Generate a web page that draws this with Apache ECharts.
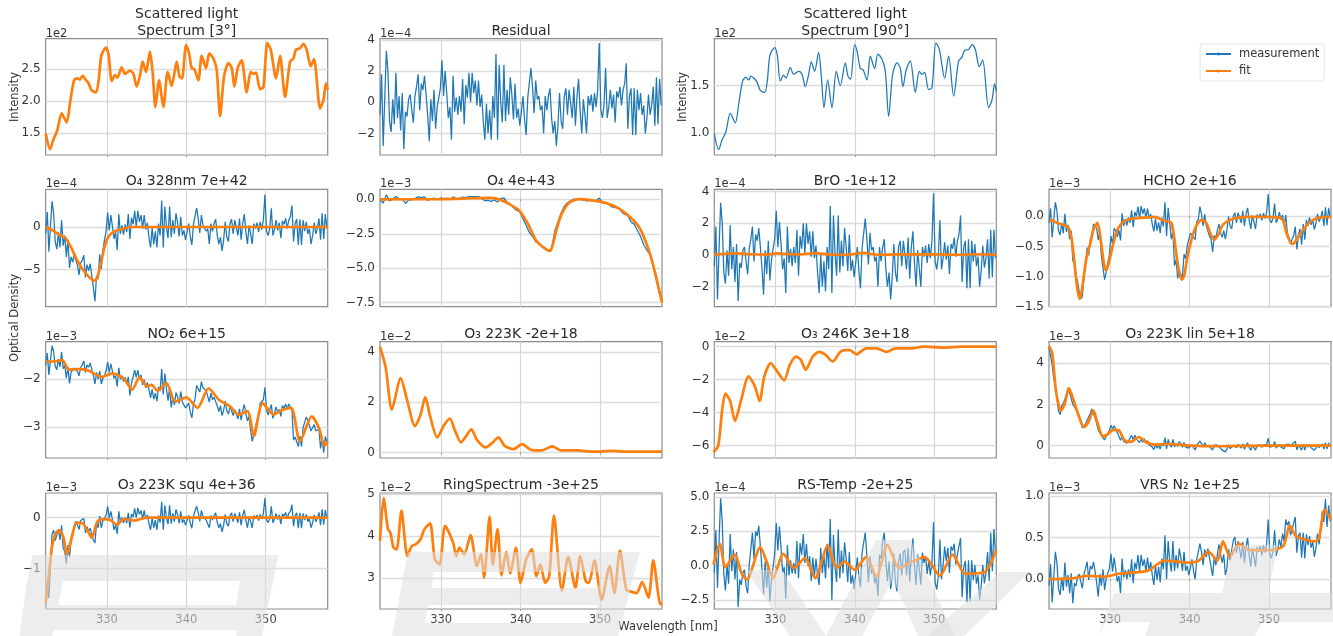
<!DOCTYPE html>
<html><head><meta charset="utf-8">
<style>html,body{margin:0;padding:0;background:#fff}#c{width:1333px;height:636px}#c canvas{filter:blur(0.45px)}</style>
<script src="https://cdn.jsdelivr.net/npm/echarts@6/dist/echarts.min.js"></script>
</head><body><div id="c"></div>
<script>
// ---------- data: wavelength knots and values ----------
const specWave=[322.3,322.85,323.27,323.77,324.31,324.94,325.36,325.87,326.29,326.62,
326.92,327.38,327.67,328.09,328.64,328.97,329.31,329.9,330.23,330.61,
331.03,331.32,331.87,332.29,332.92,333.34,333.76,334.18,334.51,334.93,
335.43,335.77,336.11,336.57,337.11,337.66,338.16,338.79,339.13,339.46,
339.97,340.3,340.68,341.02,341.52,341.94,342.48,342.9,343.41,343.83,
344.25,344.75,345.3,345.72,346.05,346.47,346.97,347.6,348.11,348.44,
348.78,349.28,349.7,350.2,350.63,351.3,351.8,352.43,353.06,353.48,
353.81,354.32,354.74,355.16,355.66,356.08,356.84,357.26,357.59,357.8];
const spec3=[1.5,1.25,1.4,1.55,1.81,1.67,1.97,2.33,2.36,2.34,
2.4,2.33,2.29,2.17,2.14,2.33,2.72,2.84,2.72,2.32,
2.41,2.37,2.53,2.43,2.48,2.43,2.23,2.41,2.62,2.46,
2.78,2.44,1.91,2.33,1.91,2.46,2.24,2.62,2.39,2.36,
2.88,2.78,2.52,2.5,2.33,2.71,2.52,2.75,2.67,2.49,
1.77,2.39,2.6,2.52,2.23,2.52,2.64,2.14,2.46,2.43,
2.45,2.19,2.22,2.91,2.81,2.36,2.71,2.07,2.62,2.67,
2.81,2.83,2.9,2.8,2.55,2.66,1.89,2.02,2.28,2.18];
const spec90=[1.0,0.83,0.93,1.02,1.21,1.11,1.3,1.55,1.59,1.56,
1.6,1.57,1.54,1.45,1.43,1.55,1.82,1.9,1.82,1.55,
1.61,1.58,1.69,1.62,1.65,1.62,1.49,1.62,1.75,1.65,
1.85,1.6,1.27,1.56,1.27,1.65,1.5,1.74,1.6,1.57,
1.93,1.85,1.68,1.67,1.56,1.81,1.68,1.83,1.78,1.65,
1.18,1.62,1.74,1.68,1.49,1.67,1.76,1.43,1.65,1.62,
1.64,1.46,1.48,1.95,1.88,1.58,1.81,1.39,1.76,1.8,
1.87,1.88,1.93,1.88,1.7,1.77,1.27,1.35,1.52,1.44];

const residual=[-0.8,1.8,-2.8,0.3,3.3,2.0,-1.2,-1.9,0.2,-1.4,
1.9,-1.0,0.4,-1.8,0.6,-3.0,-0.6,-0.9,0.2,0.5,
-0.5,-1.3,0.4,1.0,1.8,-0.5,1.2,0.8,1.7,0.5,
-0.8,-2.5,0.2,-1.2,0.8,-1.7,-0.3,0.3,0.9,2.7,
0.4,2.0,0.6,-1.0,-0.3,-2.4,1.7,-0.6,0.3,-0.8,
0.4,-0.6,1.5,-1.4,1.1,0.3,1.9,0.0,1.9,0.6,
1.4,-0.2,1.4,-0.3,0.5,-1.2,-2.4,-0.1,-2.0,-0.5,
-2.4,0.4,-1.0,3.1,-2.4,2.4,0.0,-1.3,2.4,-1.2,
0.8,-0.8,1.6,0.5,-1.1,1.2,-1.0,-0.4,-1.5,-0.6,
0.4,-1.1,-2.1,0.3,0.3,2.2,1.0,-0.7,1.4,0.2,
0.4,-0.5,-0.2,-2.0,0.4,-0.5,0.4,0.9,-1.0,-2.0,
-1.2,-2.8,-1.5,0.6,-1.2,-1.7,0.4,0.9,-0.8,0.8,
0.9,-1.0,1.0,-1.5,0.4,1.5,-0.6,-2.0,0.2,-0.8,
-2.0,0.4,-0.2,0.5,-0.6,0.6,-0.3,0.8,3.8,-0.5,
-1.0,-0.2,2.2,-1.0,-0.3,0.8,-0.4,0.5,-1.3,0.7,
0.3,1.0,-0.2,0.8,1.2,2.5,-1.7,0.4,0.9,-2.1,
0.9,-2.1,0.8,-0.5,0.6,-0.8,-0.2,-2.0,-1.0,0.5,
-0.8,-0.2,1.0,-1.5,1.6,-1.4,1.5,-0.2];

const fitO4a=[[322.3,0],[323,-0.3],[324,-0.9],[324.8,-1.3],[325.5,-2.4],[326.2,-3.8],[327,-5.0],[327.8,-5.9],[328.4,-6.3],[328.8,-5.9],[329.3,-4],[329.8,-2],[330.3,-1],[331,-0.5],[332,-0.2],[333,0],[340,0],[350,0],[357.8,0]];
const measO4a=[-0.8,1.75,-2.9,0.1,3.0,1.6,-1.75,-2.6,-0.6,-2.4,
0.8,-2.2,-1.0,-3.5,-1.5,-4.8,-3.5,-4.1,-3.3,-3.3,
-4.5,-5.6,-4.2,-3.9,-3.3,-5.9,-4.4,-5.1,-4.3,-5.7,
-7.1,-8.7,-5.7,-6.1,-3.2,-4.9,-2.7,-1.5,-0.5,1.7,
-0.4,1.4,0.1,-1.4,-0.6,-2.7,1.5,-0.8,0.2,-0.9,
0.3,-0.6,1.5,-1.4,1.1,0.3,1.9,0.0,1.9,0.6,
1.4,-0.2,1.4,-0.3,0.5,-1.2,-2.4,-0.1,-2.0,-0.5,
-2.4,0.4,-1.0,3.1,-2.4,2.4,0.0,-1.3,2.4,-1.2,
0.8,-0.8,1.6,0.5,-1.1,1.2,-1.0,-0.4,-1.5,-0.6,
0.4,-1.1,-2.1,0.3,0.3,2.2,1.0,-0.7,1.4,0.2,
0.4,-0.5,-0.2,-2.0,0.4,-0.5,0.4,0.9,-1.0,-2.0,
-1.2,-2.8,-1.5,0.6,-1.2,-1.7,0.4,0.9,-0.8,0.8,
0.9,-1.0,1.0,-1.5,0.4,1.5,-0.6,-2.0,0.2,-0.8,
-2.0,0.4,-0.2,0.5,-0.6,0.6,-0.3,0.8,3.8,-0.5,
-1.0,-0.2,2.2,-1.0,-0.3,0.8,-0.4,0.5,-1.3,0.7,
0.3,1.0,-0.2,0.8,1.2,2.5,-1.7,0.4,0.9,-2.1,
0.9,-2.1,0.8,-0.5,0.6,-0.8,-0.2,-2.0,-1.0,0.5,
-0.8,-0.2,1.0,-1.5,1.6,-1.4,1.5,-0.2];

const fitO4b=[[322.3,0],[330,0.02],[334,0.08],[336,0.1],[337.3,0],[338.6,-0.35],[339.8,-0.8],[340.9,-1.75],[341.9,-2.95],[342.8,-3.45],[343.7,-3.75],[344.05,-3.3],[344.45,-2.35],[345.1,-1.15],[346.1,-0.25],[347.4,0.02],[350,-0.17],[352,-0.55],[353.7,-1.25],[355,-2.1],[356.2,-3.8],[357,-5.5],[357.8,-7.5]];
const measO4b=[-0.07,-0.27,0.33,-0.11,0.03,
0.2,0.04,0.06,-0.3,-0.06,
-0.04,0.05,0.18,0.13,0.18,
-0.07,0.03,0.09,-0.02,0.1,
0.05,0.07,-0.02,0.18,0.04,
0.05,0.16,0.12,0.2,0.2,
0.2,0.2,0.1,-0.1,-0.08,
-0.15,-0.05,-0.2,0.05,0.1,
-0.2,-0.35,-0.62,-0.8,-0.9,
-1.4,-1.9,-2.4,-2.7,-3.08,
-3.2,-3.4,-3.6,-3.75,-3.6,
-2.3,-1.65,-1.0,-0.5,-0.25,
-0.1,0.02,0.02,0,-0.05,
-0.12,-0.1,-0.1,-0.12,0.1,
-0.25,-0.25,-0.38,-0.55,-0.6,
-0.6,-0.9,-1.1,-1.15,-1.65,
-1.8,-2.25,-2.7,-3.3,-3.7,
-4.0,-4.9,-5.9,-6.9];

const fitBrO=[[322.3,0.03],[325,0.1],[327,0.05],[329,0.03],[330,0.1],[331,0.08],[333,0.04],[335,0.12],[337,0.02],[339,0.02],[341,0.14],[343,0.02],[345,0.04],[348,0.05],[351,0.04],[353,0.02],[355,0.05],[357.8,0.03]];
const measBrO=[-0.7,1.8,-2.8,0.4,3.3,2.0,-1.1,-1.8,0.3,-1.3,
1.9,-0.9,0.5,-1.7,0.7,-2.9,-0.5,-0.8,0.3,0.5,
-0.4,-1.2,0.4,1.0,1.8,-0.4,1.3,0.9,1.7,0.5,
-0.8,-2.5,0.3,-1.2,0.9,-1.6,-0.3,0.4,1.0,2.8,
0.5,2.1,0.7,-0.9,-0.2,-2.4,1.8,-0.5,0.4,-0.7,
0.5,-0.5,1.6,-1.3,1.2,0.4,2.0,0.1,2.0,0.7,
1.5,-0.1,1.5,-0.2,0.6,-1.1,-2.4,0.0,-2.0,-0.4,
-2.3,0.5,-0.9,3.1,-2.4,2.5,0.1,-1.3,2.5,-1.1,
0.9,-0.7,1.7,0.5,-1.0,1.3,-1.0,-0.3,-1.4,-0.5,
0.5,-1.0,-2.1,0.4,0.4,2.3,1.1,-0.6,1.4,0.3,
0.5,-0.4,-0.1,-2.0,0.5,-0.4,0.5,1.0,-0.9,-2.0,
-1.1,-2.8,-1.4,0.7,-1.1,-1.7,0.5,0.9,-0.7,0.9,
1.0,-0.9,1.1,-1.5,0.5,1.5,-0.5,-2.0,0.3,-0.8,
-2.0,0.5,-0.1,0.6,-0.5,0.7,-0.2,0.9,3.9,-0.4,
-0.9,-0.1,2.2,-0.9,-0.2,0.8,-0.3,0.6,-1.2,0.7,
0.4,1.1,-0.1,0.9,1.3,2.5,-1.7,0.5,0.9,-2.1,
1.0,-2.1,0.9,-0.4,0.7,-0.7,-0.1,-2.0,-1.0,0.6,
-0.8,-0.2,1.0,-1.5,1.6,-1.4,1.6,-0.2];

const fitHCHO=[[322.4,-0.05],[323.5,-0.12],[324.1,-0.14],[324.8,-0.2],[325.2,-0.42],[325.6,-0.9],[325.9,-1.23],[326.2,-1.37],[326.5,-1.17],[327,-0.7],[327.5,-0.45],[327.9,-0.22],[328.4,-0.11],[328.7,-0.28],[329.2,-0.78],[329.5,-0.9],[329.9,-0.73],[330.4,-0.45],[331,-0.2],[331.9,-0.07],[332.9,-0.04],[334.6,-0.02],[335.6,-0.01],[336.7,-0.07],[337.7,-0.11],[338.2,-0.5],[338.6,-0.87],[339,-1.05],[339.3,-1],[339.8,-0.62],[340.7,-0.2],[341.5,-0.06],[342.1,-0.11],[342.6,-0.28],[343.1,-0.39],[343.6,-0.31],[344.2,-0.14],[345.5,-0.04],[347.2,-0.01],[349.7,-0.01],[351.6,-0.04],[352.2,-0.28],[352.9,-0.46],[353.3,-0.42],[354.3,-0.22],[355.4,-0.07],[356.4,-0.02],[357.8,-0.01]];
const measHCHO=[-0.11,0.13,-0.35,-0.06,0.23,0.09,-0.24,-0.31,-0.11,-0.28,
0.04,-0.26,-0.14,-0.38,-0.24,-0.75,-0.71,-0.99,-1.08,-1.25,
-1.37,-1.33,-1.01,-0.8,-0.52,-0.65,-0.38,-0.32,-0.13,-0.15,
-0.2,-0.39,-0.26,-0.67,-0.7,-1.05,-0.93,-0.77,-0.64,-0.33,
-0.46,-0.2,-0.24,-0.34,-0.23,-0.4,0.05,-0.16,-0.05,-0.15,
-0.02,-0.11,0.1,-0.18,0.07,0,0.16,-0.03,0.17,0.04,
0.13,-0.03,0.13,-0.04,0.04,-0.13,-0.25,-0.04,-0.24,-0.1,
-0.28,-0.02,-0.17,0.23,-0.33,0.14,-0.11,-0.38,-0.26,-0.82,
-0.72,-1.03,-0.89,-0.97,-1.01,-0.63,-0.7,-0.49,-0.48,-0.28,
-0.26,-0.35,-0.39,-0.09,-0.05,0.16,0.03,-0.16,0.03,-0.16,
-0.16,-0.33,-0.38,-0.59,-0.32,-0.36,-0.23,-0.13,-0.28,-0.35,
-0.24,-0.38,-0.23,0,-0.17,-0.21,0,0.06,-0.11,0.06,
0.08,-0.11,0.09,-0.16,0.03,0.14,-0.07,-0.21,0.01,-0.09,
-0.21,0.03,-0.03,0.04,-0.07,0.05,-0.04,0.07,0.37,-0.06,
-0.11,-0.03,0.21,-0.11,-0.04,0.07,-0.06,0.02,-0.16,0.02,
-0.27,-0.28,-0.46,-0.38,-0.32,-0.17,-0.55,-0.3,-0.21,-0.47,
-0.13,-0.39,-0.06,-0.16,-0.02,-0.14,-0.06,-0.22,-0.12,0.04,
-0.09,-0.03,0.09,-0.16,0.15,-0.15,0.14,-0.03];

const fitNO2=[[322.3,-1.63],[323.3,-1.63],[324.4,-1.6],[325.2,-1.8],[326.3,-1.79],[327.7,-1.82],[329.3,-1.95],[330.7,-1.88],[332.1,-1.98],[333.2,-2.22],[334.1,-1.96],[335.1,-2.15],[335.6,-2.12],[336.4,-2.24],[337.5,-2.08],[338.6,-2.47],[340,-2.38],[341.4,-2.6],[342.8,-2.19],[344.1,-2.43],[345.5,-2.57],[346.6,-2.74],[347.7,-2.67],[348.5,-3.19],[349.6,-2.5],[351,-2.74],[352,-2.65],[353.2,-2.6],[354.3,-3.3],[355.8,-2.78],[356.7,-3.02],[357.4,-3.4],[357.8,-3.3]];
const measNO2=[-1.71,-1.45,-1.91,-1.6,-1.3,-1.42,-1.73,-1.8,-1.58,-1.74,
-1.43,-1.78,-1.71,-1.98,-1.74,-2.09,-1.85,-1.88,-1.77,-1.74,
-1.84,-1.93,-1.76,-1.7,-1.62,-1.86,-1.7,-1.75,-1.66,-1.79,
-1.92,-2.1,-1.86,-2.0,-1.83,-2.1,-1.98,-1.92,-1.83,-1.64,
-1.86,-1.68,-1.83,-1.98,-1.93,-2.15,-1.76,-2.0,-1.93,-2.05,
-1.96,-2.11,-1.95,-2.34,-2.09,-2.07,-1.81,-1.96,-1.81,-2.0,
-1.91,-2.12,-2.01,-2.18,-2.07,-2.22,-2.39,-2.21,-2.42,-2.29,
-2.46,-2.16,-2.25,-1.79,-2.32,-1.88,-2.2,-2.45,-2.18,-2.59,
-2.38,-2.54,-2.28,-2.37,-2.51,-2.26,-2.48,-2.44,-2.6,-2.56,
-2.5,-2.69,-2.81,-2.52,-2.42,-2.13,-2.15,-2.27,-2.05,-2.18,
-2.15,-2.24,-2.24,-2.48,-2.29,-2.43,-2.38,-2.35,-2.56,-2.68,
-2.56,-2.76,-2.65,-2.46,-2.66,-2.73,-2.56,-2.55,-2.76,-2.64,
-2.61,-2.83,-2.62,-2.86,-2.66,-2.53,-2.72,-2.87,-2.78,-3.08,
-3.3,-3.16,-3.12,-2.86,-2.77,-2.5,-2.53,-2.43,-2.17,-2.65,
-2.75,-2.74,-2.53,-2.82,-2.71,-2.58,-2.7,-2.63,-2.78,-2.55,
-2.62,-2.52,-2.62,-2.52,-2.58,-2.65,-3.27,-3.21,-3.21,-3.41,
-3.19,-3.41,-3.02,-3.0,-2.79,-2.86,-2.82,-3.08,-3.05,-2.95,
-3.08,-3.07,-3.05,-3.45,-3.23,-3.54,-3.2,-3.32];

const fitO3a=[[322.3,4.2],[323,3.4],[323.8,1.7],[324.9,2.95],[325.7,2.1],[326.7,1.05],[327.4,1.5],[328,2.2],[328.6,1.45],[329.5,0.6],[330.4,1.1],[331.1,1.35],[331.7,0.9],[332.5,0.4],[333.1,0.63],[333.8,0.92],[334.5,0.5],[335.6,0.2],[336.4,0.37],[337.2,0.6],[338,0.26],[339.1,0.13],[340.2,0.33],[341.3,0.1],[342.6,0.08],[344,0.24],[345.1,0.08],[347.1,0.08],[349.2,0.03],[351.5,0.06],[353.6,0.03],[357.8,0.03]];
const fitO3b=[[322.2,-6.4],[322.8,-6],[323.3,-3.8],[323.7,-2.85],[324.3,-3.3],[324.9,-4.5],[325.7,-3.2],[326.6,-1.8],[327.4,-2.4],[328,-3.3],[328.6,-1.8],[329.4,-1],[330.2,-1.5],[331.1,-2.05],[331.8,-1.1],[332.6,-0.6],[333.2,-0.8],[333.8,-1.4],[334.7,-0.6],[335.5,-0.32],[336.3,-0.5],[337.2,-0.9],[338.2,-0.3],[339.3,-0.2],[340.2,-0.46],[341.4,-0.1],[342.7,-0.1],[344,-0.32],[345.1,-0.1],[347.2,-0.1],[348.6,0],[351.2,-0.06],[353.4,0],[357.8,0]];
const fitO3lin=[[322.3,4.85],[322.7,4.5],[323.2,2.6],[323.8,1.7],[324.3,2.05],[324.8,2.8],[325.4,2.2],[325.9,1.6],[326.7,0.9],[327.2,1.1],[327.9,1.7],[328.4,1.1],[329.1,0.45],[329.6,0.53],[330.4,0.77],[331.1,0.74],[331.8,0.26],[332.6,0.18],[333.6,0.42],[334.4,0.2],[335.5,0.05],[337.4,0.08],[340,0],[343.8,-0.03],[350,0],[357.8,0]];
const measO3lin=[4.77,4.78,3.92,3.23,2.93,2.3,1.68,1.51,1.92,2.06,
2.24,2.3,2.79,2.57,2.56,2,2.04,1.76,1.62,1.45,
1.15,0.87,0.94,1.05,1.23,1.15,1.57,1.78,1.77,1.35,
1.07,0.75,0.82,0.48,0.53,0.28,0.47,0.58,0.74,0.99,
0.81,0.97,0.81,0.64,0.62,0.26,0.47,0.2,0.27,0.12,
0.22,0.19,0.5,0.28,0.51,0.33,0.39,0.15,0.31,0.16,
0.34,0.12,0.24,0.03,0.1,-0.07,-0.19,0.05,-0.13,0.02,
-0.16,0.12,-0.02,0.39,-0.16,0.3,0.06,-0.07,0.3,-0.06,
0.1,-0.04,0.2,0.08,-0.08,0.15,-0.07,-0.01,-0.12,-0.03,
0.04,-0.11,-0.21,0.03,0.03,0.22,0.1,-0.07,0.14,0.02,
0.04,-0.05,-0.02,-0.22,0.02,-0.07,0.02,0.07,-0.12,-0.22,
-0.14,-0.3,-0.17,0.04,-0.14,-0.19,0.02,0.07,-0.1,0.06,
0.07,-0.12,0.08,-0.17,0.02,0.13,-0.08,-0.22,0,-0.1,
-0.22,0.02,-0.04,0.03,-0.08,0.04,-0.05,0.06,0.36,-0.07,
-0.12,-0.04,0.2,-0.12,-0.05,0.06,-0.07,0.02,-0.15,0.05,
0,0.08,-0.04,0.06,0.1,0.22,-0.2,0.02,0.07,-0.22,
0.07,-0.22,0.06,-0.07,0.04,-0.1,-0.04,-0.22,-0.12,0.03,
-0.1,-0.04,0.08,-0.17,0.14,-0.16,0.13,-0.04];

const fitO3squ=[[322.3,-1.67],[322.6,-1.28],[323.1,-0.56],[323.6,-0.3],[324,-0.25],[324.5,-0.37],[325,-0.73],[325.5,-0.44],[326.2,-0.1],[326.9,-0.11],[327.7,-0.3],[328.1,-0.4],[328.8,-0.08],[329.6,-0.03],[330.4,-0.05],[331.3,-0.14],[332.1,-0.03],[333.4,-0.06],[335.1,0],[338.4,0],[357.8,0]];
const measO3squ=[-1.75,-1.27,-1.58,-0.97,-0.32,-0.25,-0.45,-0.46,-0.23,-0.44,
-0.15,-0.6,-0.66,-0.9,-0.54,-0.77,-0.41,-0.34,-0.15,-0.07,
-0.15,-0.23,-0.06,-0.04,-0.02,-0.3,-0.18,-0.27,-0.21,-0.35,
-0.44,-0.5,-0.1,-0.2,0.03,-0.2,-0.06,-0.01,0.04,0.22,
-0.01,0.12,-0.04,-0.24,-0.15,-0.32,0.12,-0.09,0,-0.11,
0,-0.11,0.09,-0.2,0.07,0.01,0.18,0,0.19,0.06,
0.14,-0.02,0.14,-0.03,0.05,-0.12,-0.24,-0.01,-0.2,-0.05,
-0.24,0.04,-0.1,0.31,-0.24,0.24,0,-0.13,0.24,-0.12,
0.08,-0.08,0.16,0.05,-0.11,0.12,-0.1,-0.04,-0.15,-0.06,
0.04,-0.11,-0.21,0.03,0.03,0.22,0.1,-0.07,0.14,0.02,
0.04,-0.05,-0.02,-0.2,0.04,-0.05,0.04,0.09,-0.1,-0.2,
-0.12,-0.28,-0.15,0.06,-0.12,-0.17,0.04,0.09,-0.08,0.08,
0.09,-0.1,0.1,-0.15,0.04,0.15,-0.06,-0.2,0.02,-0.08,
-0.2,0.04,-0.02,0.05,-0.06,0.06,-0.03,0.08,0.38,-0.05,
-0.1,-0.02,0.22,-0.1,-0.03,0.08,-0.04,0.05,-0.13,0.07,
0.03,0.1,-0.02,0.08,0.12,0.25,-0.17,0.04,0.09,-0.21,
0.09,-0.21,0.08,-0.05,0.06,-0.08,-0.02,-0.2,-0.1,0.05,
-0.08,-0.02,0.1,-0.15,0.16,-0.14,0.15,-0.02];

const fitRing=[[322.3,3.88],[322.75,4.9],[323.3,4.16],[323.6,4.08],[324,3.72],[324.4,3.68],[325,4.6],[325.75,3.52],[326.3,3.76],[326.8,3.8],[327.4,3.92],[327.9,4.16],[328.6,4.3],[329.2,3.44],[329.8,3.32],[330.5,4.24],[331.5,3.84],[331.9,3.52],[332.3,3.72],[332.9,3.56],[333.7,4.02],[334.5,3.28],[335,3.56],[335.4,3],[336.1,4.46],[336.5,3.32],[337.1,4.16],[337.6,3.06],[338.2,3.62],[338.7,3.1],[339.4,3.72],[340,2.88],[340.7,3.44],[341.4,3.68],[342,3.04],[342.5,3.32],[343.1,2.88],[343.6,3.04],[344.2,4.48],[345.2,2.7],[346,3.5],[346.9,2.76],[347.5,3.52],[348.2,2.92],[348.6,2.88],[349.3,3.42],[350.2,2.48],[351.2,3.28],[351.8,2.64],[352.5,3.65],[353.3,2.72],[353.8,2.68],[354.6,2.64],[355.3,2.9],[356.1,2.53],[356.7,3.42],[357.6,2.37],[357.8,2.4]];

const fitRS=[[322.2,0.07],[323,1.6],[323.7,-0.1],[324.9,0.8],[325.7,-0.5],[326.4,-1],[328.1,1.35],[328.8,0.43],[329.7,-0.9],[331,0.87],[332.3,-0.17],[333.7,0.55],[335,-0.9],[336.6,1.47],[337.7,-0.17],[338.7,0.3],[340,-0.3],[341.4,0.63],[342.7,-0.77],[344.1,1.5],[345.6,-0.17],[347.2,0.3],[348.8,0.63],[350.7,-0.72],[352.3,0.8],[353.9,-0.58],[356.3,-0.48],[357.8,1.16]];
const measRS=[-0.5,2.6,-1.6,1.8,4.9,3.2,-0.6,-1.8,0.1,-1.3,
2.3,-0.4,1.2,-1.0,1.0,-3,-1.0,-1.4,-0.5,-0.3,
-1.5,-2,0.1,1.2,2.4,0.5,2.5,2.15,2.9,1.4,
-0.2,-2.07,0.3,-1.6,0.1,-2.6,-1,-0.1,0.9,3.1,
1.1,2.87,1.3,-0.5,-0.1,-2.4,1.5,-0.7,0.4,-0.55,
0.2,-0.6,1.8,-0.9,1.65,0.8,2.3,0.2,1.6,0,
0.7,-1.1,0.6,-0.8,0.5,-0.7,-1.4,1.3,-0.53,0.8,
-0.93,1.6,-0.2,3.4,-2.5,2.23,-0.1,-1.2,2.65,-0.9,
1.1,-0.55,1.7,0.5,-1.2,1,-1.3,-0.7,-1.7,-0.6,
0.6,-0.7,-1.55,0.93,0.8,2.4,0.8,-1.2,0.7,-0.57,
-0.3,-1.27,-0.8,-2.2,0.8,0.5,1.8,2.4,0.3,-1.1,
0.3,-1.7,-0.8,0.9,-1.2,-1.87,0.3,0.9,-0.7,1.0,
1.15,-0.7,1.3,-1.15,0.8,2,-0.05,-1.4,0.83,-0.2,
-1.37,0.95,0.2,0.7,-0.6,0.4,-0.7,0.25,3.15,-1.2,
-1.72,-0.8,1.9,-1,0,1.4,0.35,1.3,-0.52,1.4,
1.1,1.6,0.1,0.8,0.9,2,-2.28,-0.1,0.35,-2.65,
0.4,-2.58,0.4,-1.05,0.05,-1.3,-0.68,-2.45,-1.48,0.05,
-1.28,-0.5,1,-1.1,2.4,-0.4,2.66,0.9];

const fitVRS=[[322.3,0],[325.1,0.01],[327.2,0.04],[329.4,0.03],[331,0.065],[334.7,0.1],[335.8,0.17],[336.8,0.225],[340,0.2],[341.1,0.22],[342.4,0.33],[343.5,0.22],[344.2,0.455],[345.1,0.27],[346.2,0.43],[347.5,0.35],[350.2,0.35],[351.8,0.4],[352.6,0.65],[353.4,0.52],[355.8,0.455],[356.3,0.5],[357,0.84],[357.8,0.72]];
const measVRS=[-0.08,0.18,-0.28,0.03,0.33,0.2,-0.12,-0.19,0.02,-0.14,
0.2,-0.09,0.05,-0.17,0.07,-0.29,-0.05,-0.08,0.03,0.06,
-0.03,-0.11,0.06,0.13,0.21,-0.01,0.16,0.12,0.21,0.09,
-0.04,-0.21,0.06,-0.08,0.12,-0.13,0.01,0.07,0.13,0.31,
0.09,0.26,0.12,-0.03,0.04,-0.17,0.25,0.02,0.11,0,
0.12,0.02,0.24,-0.05,0.2,0.12,0.29,0.1,0.29,0.16,
0.24,0.09,0.26,0.1,0.21,0.05,-0.07,0.17,-0.01,0.15,
-0.04,0.25,0.12,0.53,0,0.46,0.22,0.09,0.46,0.1,
0.29,0.13,0.37,0.26,0.1,0.33,0.1,0.16,0.05,0.14,
0.24,0.1,0,0.24,0.24,0.43,0.33,0.17,0.36,0.27,
0.37,0.26,0.26,0.04,0.26,0.17,0.3,0.42,0.3,0.2,
0.3,0.05,0.13,0.36,0.23,0.23,0.47,0.51,0.32,0.46,
0.45,0.25,0.45,0.2,0.39,0.5,0.29,0.15,0.37,0.27,
0.15,0.39,0.33,0.4,0.29,0.41,0.32,0.43,0.72,0.3,
0.25,0.34,0.59,0.28,0.37,0.48,0.38,0.55,0.46,0.72,
0.65,0.7,0.53,0.6,0.62,0.75,0.32,0.52,0.56,0.26,
0.56,0.25,0.54,0.41,0.52,0.38,0.45,0.27,0.37,0.55,
0.42,0.58,0.82,0.69,0.97,0.63,0.89,0.7];

const xTicks=[330,340,350];

// ---------- layout and panels ----------
const BLUE='#1f77b4',ORANGE='#ff7f0e',FONT='"DejaVu Sans",sans-serif',INK='#333';
const colLeft=[45.7,380,714.3,1049],rowTop=[38.7,189.3,341.7,493],rowH=[116.3,117.4,116.3,116],panelW=282;
const onGrid=(vals,step)=>vals.map((v,i)=>[+(322.3+i*step).toFixed(2),v]);
const spec=vals=>vals.map((v,i)=>[specWave[i],v]);

const panels=[
 {r:0,c:0,title:'Scattered light\nSpectrum [3°]',off:'1e2',ymin:1.16,ymax:2.98,ticks:[1.5,2,2.5],dp:1,fit:spec(spec3)},
 {r:0,c:1,title:'Residual',off:'1e−4',ymin:-3.38,ymax:4.08,ticks:[-2,0,2,4],dp:0,meas:onGrid(residual,0.2)},
 {r:0,c:2,title:'Scattered light\nSpectrum [90°]',off:'1e2',ymin:0.773,ymax:1.993,ticks:[1,1.5],dp:1,meas:spec(spec90),smoothMeas:true},
 {r:1,c:0,title:'O₄ 328nm 7e+42',off:'1e−4',ymin:-9.33,ymax:4.41,ticks:[-5,0],dp:0,meas:onGrid(measO4a,0.2),fit:fitO4a},
 {r:1,c:1,title:'O₄ 4e+43',off:'1e−3',ymin:-7.8,ymax:0.73,ticks:[-7.5,-5,-2.5,0],dp:1,meas:onGrid(measO4b,0.4),fit:fitO4b},
 {r:1,c:2,title:'BrO -1e+12',off:'1e−4',ymin:-3.26,ymax:4.15,ticks:[-2,0,2,4],dp:0,meas:onGrid(measBrO,0.2),fit:fitBrO},
 {r:1,c:3,title:'HCHO 2e+16',off:'1e−3',ymin:-1.5,ymax:0.447,ticks:[-1.5,-1,-0.5,0],dp:1,meas:onGrid(measHCHO,0.2),fit:fitHCHO},
 {r:2,c:0,title:'NO₂ 6e+15',off:'1e−3',ymin:-3.65,ymax:-1.215,ticks:[-3,-2],dp:0,meas:onGrid(measNO2,0.2),fit:fitNO2},
 {r:2,c:1,title:'O₃ 223K -2e+18',off:'1e−2',ymin:-0.22,ymax:4.4,ticks:[0,2,4],dp:0,fit:fitO3a},
 {r:2,c:2,title:'O₃ 246K 3e+18',off:'1e−2',ymin:-6.75,ymax:0.3,ticks:[-6,-4,-2,0],dp:0,fit:fitO3b},
 {r:2,c:3,title:'O₃ 223K lin 5e+18',off:'1e−3',ymin:-0.6,ymax:5.05,ticks:[0,2,4],dp:0,meas:onGrid(measO3lin,0.2),fit:fitO3lin},
 {r:3,c:0,title:'O₃ 223K squ 4e+36',off:'1e−3',ymin:-1.79,ymax:0.48,ticks:[-1,0],dp:0,meas:onGrid(measO3squ,0.2),fit:fitO3squ},
 {r:3,c:1,title:'RingSpectrum -3e+25',off:'1e−2',ymin:2.26,ymax:5.02,ticks:[3,4,5],dp:0,fit:fitRing},
 {r:3,c:2,title:'RS-Temp -2e+25',off:'1e−4',ymin:-3.14,ymax:5.28,ticks:[-2.5,0,2.5,5],dp:1,meas:onGrid(measRS,0.2),fit:fitRS},
 {r:3,c:3,title:'VRS N₂ 1e+25',off:'1e−3',ymin:-0.36,ymax:1.04,ticks:[0,0.5,1],dp:1,meas:onGrid(measVRS,0.2),fit:fitVRS}
];

const grid=[],xAxis=[],yAxis=[],series=[],title=[];
panels.forEach((p,i)=>{
  const left=colLeft[p.c],top=rowTop[p.r],h=rowH[p.r],bottomRow=p.r===3;
  grid.push({left,top,width:panelW,height:h,show:true,borderColor:'#8c8c8c',borderWidth:1.2,backgroundColor:'#fff'});
  xAxis.push({type:'value',gridIndex:i,min:322.3,max:357.8,
    axisLine:{show:false},
    axisTick:{show:true,length:2,customValues:xTicks,lineStyle:{color:'#999',width:1}},
    axisLabel:{show:bottomRow,customValues:xTicks,margin:5,color:'#444',fontFamily:FONT,fontSize:11.5},
    splitLine:{show:true,lineStyle:{color:'#d6d6d6',width:1.2}}});
  yAxis.push({type:'value',gridIndex:i,min:p.ymin,max:p.ymax,
    axisLine:{show:false},
    axisTick:{show:false,customValues:p.ticks},
    axisLabel:{customValues:p.ticks,margin:5,color:INK,fontFamily:FONT,fontSize:12,
      formatter:v=>Number(v).toFixed(p.dp).replace('-','−')},
    splitLine:{show:true,lineStyle:{color:'#dcdcdc',width:1.4}}});
  if(p.meas)series.push({name:'measurement',type:'line',xAxisIndex:i,yAxisIndex:i,data:p.meas,symbol:'none',silent:true,
    smooth:p.smoothMeas?0.3:false,lineStyle:{color:BLUE,width:1.25},itemStyle:{color:BLUE},z:3});
  if(p.fit)series.push({name:'fit',type:'line',xAxisIndex:i,yAxisIndex:i,data:p.fit,symbol:'none',silent:true,
    smooth:0.25,lineStyle:{color:ORANGE,width:2.7},itemStyle:{color:ORANGE},z:4});
  const multi=p.title.includes('\n');
  title.push({text:p.title,left:left+panelW/2,top:top-(multi?33:16),padding:0,textAlign:'center',
    textStyle:{fontFamily:FONT,fontSize:14,fontWeight:'normal',color:'#2a2a2a',lineHeight:17}});
  title.push({text:p.off,left:left,top:top-11,padding:0,textStyle:{fontFamily:FONT,fontSize:11.5,fontWeight:'normal',color:INK}});
});

const ghost=(points)=>({type:'polygon',z:100,silent:true,shape:{points},style:{fill:'rgba(222,222,222,0.55)'}});
const label=(text,x,y,rot)=>({type:'text',z:50,x,y,rotation:rot?Math.PI/2:0,
  style:{text,fill:INK,fontFamily:FONT,fontSize:11.5,align:'center',verticalAlign:'middle'}});

const option={
  animation:false,backgroundColor:'#fff',
  grid,xAxis,yAxis,series,title,
  legend:{data:['measurement','fit'],orient:'vertical',left:1200,top:44,itemWidth:25,itemHeight:4,itemGap:5,
    padding:[4,5,4,5],backgroundColor:'#fff',borderColor:'#e4e4e4',borderWidth:1,borderRadius:3,selectedMode:false,
    textStyle:{fontFamily:FONT,fontSize:11.5,color:INK,padding:[0,0,0,3]}},
  graphic:[
    label('Intensity',15,97,true),label('Intensity',683,97,true),
    label('Optical Density',15,318,true),label('Wavelength [nm]',668,627,false),
    ghost([[32.5,555],[278.5,555],[262,636],[236,636],[237,630],[54,630],[52,636],[19.5,636],[27,581],[63,581],[58.5,605],[236,605],[240,581],[63,581],[27,581]]),
    ghost([[408,552],[640,552],[618,636],[392,636],[398,605],[428,605],[425,623],[595,623],[597,605],[428,605],[398,605],[404,572],[433,572],[432,588],[598,588],[602,572],[433,572],[404,572]]),
    ghost([[746,570],[782,570],[826,636],[790,636]]),
    ghost([[876,540],[911,540],[955,636],[918,636],[893,580],[862,636],[826,636]]),
    ghost([[927,636],[964,636],[1030,572],[1000,572]]),
    ghost([[1233,545],[1278,545],[1268,593],[1333,593],[1333,622],[1262,622],[1255,636],[1145,636],[1150,622],[1106,622],[1098,636],[1114,593],[1222,593]])
  ]
};
echarts.init(document.getElementById('c'),null,{renderer:'canvas'}).setOption(option);
</script></body></html>
